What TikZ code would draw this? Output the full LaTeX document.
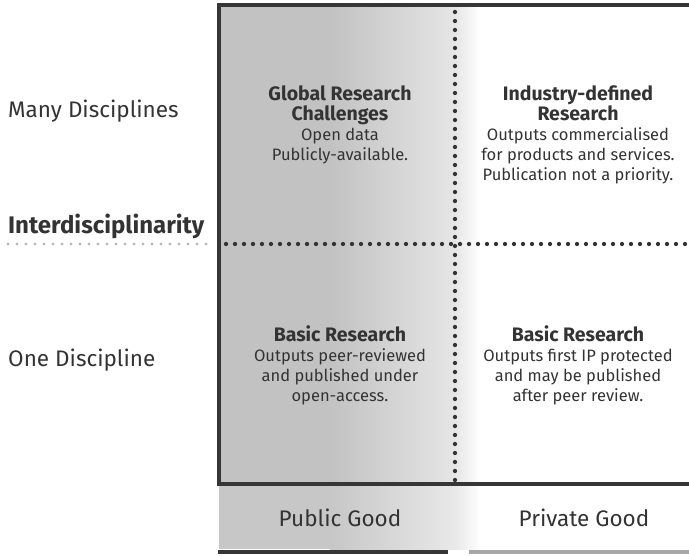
\documentclass[tikz,border=0pt]{standalone}
\usepackage{fontspec}
\setmainfont{Fira Sans}
\definecolor{ink}{HTML}{333333}
\definecolor{frame}{HTML}{363636}
\begin{document}
\begin{tikzpicture}[x=1pt, y=-1pt,
	dots/.style = {line width=4.3pt, line cap=round, dash pattern=on 0pt off 9pt, ink},
	sidelabel/.style = {anchor=base west, inner sep=0pt, text=ink, font=\fontsize{22.5}{26}\selectfont},
	cell/.style = {anchor=north, inner sep=0pt, align=center, text=ink, font=\fontsize{16.5}{20}\selectfont},
	goodlabel/.style = {anchor=base, inner sep=0pt, text=ink, font=\fontsize{22.5}{26}\selectfont}]
	%	frame setup
	
	\def\xl{219}
	\def\xg{330}
	\def\xm{455}
	\def\xf{480}
	\def\xr{695}
	
	\def\yt{5}
	\def\ym{244}
	\def\yb{484}
	
	\newcommand{\ttl}{\fontsize{19.5}{20}\selectfont\bfseries}
	
	\useasboundingbox (0, 0) rectangle (689, 555);
	
	%	shading public side
	\fill[black!24] (\xl, \yt) rectangle (\xg, \yb);
	\fill[left color=black!24, right color=black!10] (\xg, \yt) rectangle (\xm, \yb);
	\fill[left color=black!10, right color=white] (\xm, \yt) rectangle (\xf, \yb);
	\fill[black!22] (\xl, \yb) rectangle (\xg, 549);
	\fill[left color=black!22, right color=black!9] (\xg, \yb) rectangle (\xm, 549);
	\fill[left color=black!9, right color=white] (\xm, \yb) rectangle (\xf, 549);
	
	%	dotted quadrants
	\draw[dots] (\xm, 12) -- (\xm, 480);
	\draw[dots] (\xl, \ym) ++(7, 0) -- (689, \ym);
	\draw[dots, line width=3.3pt, black!28] (8, \ym) -- (214, \ym);
	
	%	frame
	\draw[frame, line width=3.5pt] (\xr, \yt) -- (\xl, \yt) -- (\xl, \yb) -- (\xr, \yb);
	\draw[frame, line width=3.5pt] (218, 552) -- (448, 552);
	\draw[black!35, line width=3.5pt] (469, 552) -- (689, 552);
	
	%	side labels
	\node[sidelabel] (many) at (8, 117.5) {Many Disciplines};
	\node[sidelabel, font=\fontsize{24}{26}\selectfont\bfseries] (inter) at (8, 233) {Interdisciplinarity};
	\node[sidelabel] (one) at (8, 366) {One Discipline};
	
	%	cells
	\node[cell] (global) at (340, 85) {{\ttl Global Research}\\{\ttl Challenges}\\Open data\\Publicly-available.};
	\node[cell] (industry) at (578, 85) {{\ttl Industry-defined}\\{\ttl Research}\\Outputs commercialised\\for products and services.\\Publication not a priority.};
	\node[cell] (basicpub) at (340, 325) {{\ttl Basic Research}\\Outputs peer-reviewed\\and published under\\open-access.};
	\node[cell] (basicpriv) at (578, 325) {{\ttl Basic Research}\\Outputs first IP protected\\and may be published\\after peer review.};
	
	%	goods
	\node[goodlabel] (public) at (340, 526) {Public Good};
	\node[goodlabel] (private) at (584, 526) {Private Good};
\end{tikzpicture}
\end{document}
